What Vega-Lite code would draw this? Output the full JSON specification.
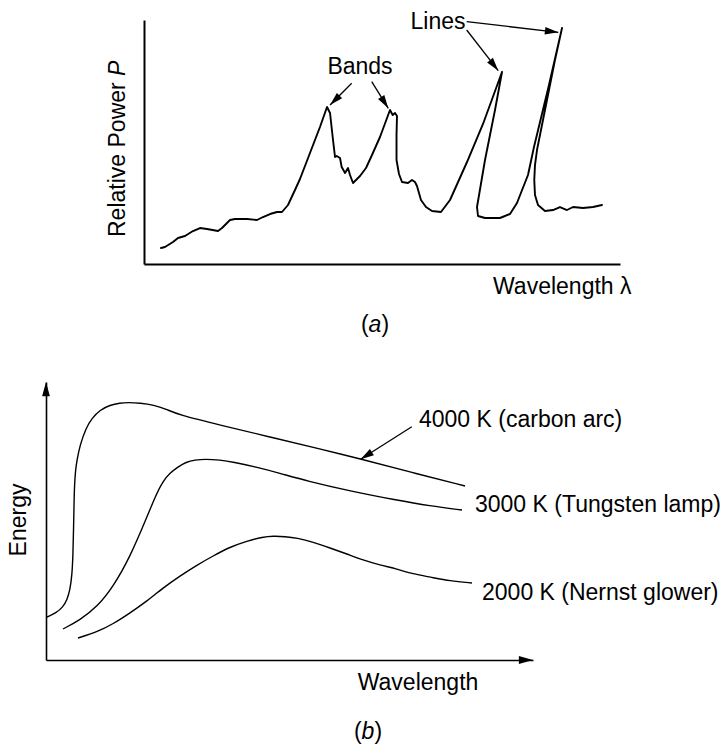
{
  "$schema": "https://vega.github.io/schema/vega-lite/v6.json",
  "background": "white",
  "padding": 0,
  "bounds": "flush",
  "spacing": 118,
  "config": {
    "view": {"stroke": null},
    "mark": {"color": "#000"},
    "text": {"font": "Liberation Sans", "fontSize": 23, "baseline": "middle"},
    "axis": {"labels": false, "ticks": false, "grid": false, "domainColor": "#000", "title": null}
  },
  "datasets": {
    "spectrum": [
      {"i":1,"wavelength":3.57,"power":6.56},{"i":2,"wavelength":4.41,"power":6.97},{"i":3,"wavelength":6.09,"power":9.02},
      {"i":4,"wavelength":7.14,"power":10.66},{"i":5,"wavelength":8.61,"power":11.48},{"i":6,"wavelength":10.29,"power":13.52},
      {"i":7,"wavelength":11.76,"power":14.75},{"i":8,"wavelength":13.24,"power":14.34},{"i":9,"wavelength":15.55,"power":13.52},
      {"i":10,"wavelength":16.39,"power":14.75},{"i":11,"wavelength":18.07,"power":18.03},{"i":12,"wavelength":19.12,"power":18.44},
      {"i":13,"wavelength":21.64,"power":18.44},{"i":14,"wavelength":23.74,"power":18.03},{"i":15,"wavelength":25.0,"power":19.26},
      {"i":16,"wavelength":26.47,"power":20.49},{"i":17,"wavelength":27.94,"power":21.31},{"i":18,"wavelength":28.99,"power":21.31},
      {"i":19,"wavelength":30.25,"power":24.18},{"i":20,"wavelength":31.72,"power":30.33},{"i":21,"wavelength":32.77,"power":34.84},
      {"i":22,"wavelength":34.87,"power":45.49},{"i":23,"wavelength":36.97,"power":56.15},{"i":24,"wavelength":38.45,"power":64.34},
      {"i":25,"wavelength":39.08,"power":61.89},{"i":26,"wavelength":39.71,"power":50.82},{"i":27,"wavelength":40.13,"power":43.85},
      {"i":28,"wavelength":40.48,"power":44.26},{"i":29,"wavelength":41.18,"power":43.44},{"i":30,"wavelength":41.53,"power":39.75},
      {"i":31,"wavelength":42.23,"power":37.30},{"i":32,"wavelength":42.86,"power":39.34},{"i":33,"wavelength":43.28,"power":36.48},
      {"i":34,"wavelength":43.91,"power":33.20},{"i":35,"wavelength":45.38,"power":36.07},{"i":36,"wavelength":46.64,"power":39.34},
      {"i":37,"wavelength":47.90,"power":44.67},{"i":38,"wavelength":49.58,"power":52.05},{"i":39,"wavelength":51.68,"power":63.11},
      {"i":40,"wavelength":52.25,"power":61.07},{"i":41,"wavelength":52.73,"power":61.89},{"i":42,"wavelength":53.15,"power":60.66},
      {"i":43,"wavelength":53.05,"power":52.87},{"i":44,"wavelength":53.05,"power":42.62},{"i":45,"wavelength":53.57,"power":36.89},
      {"i":46,"wavelength":54.20,"power":33.61},{"i":47,"wavelength":55.46,"power":33.20},{"i":48,"wavelength":56.30,"power":34.43},
      {"i":49,"wavelength":56.93,"power":33.61},{"i":50,"wavelength":57.35,"power":31.97},{"i":51,"wavelength":58.19,"power":26.23},
      {"i":52,"wavelength":59.24,"power":23.36},{"i":53,"wavelength":60.50,"power":21.72},{"i":54,"wavelength":62.39,"power":21.31},
      {"i":55,"wavelength":64.29,"power":26.23},{"i":56,"wavelength":67.86,"power":41.80},{"i":57,"wavelength":71.22,"power":57.38},
      {"i":58,"wavelength":75.21,"power":78.69},{"i":59,"wavelength":73.74,"power":63.11},{"i":60,"wavelength":71.64,"power":42.62},
      {"i":61,"wavelength":69.96,"power":23.36},{"i":62,"wavelength":70.17,"power":19.67},{"i":63,"wavelength":71.64,"power":18.85},
      {"i":64,"wavelength":74.79,"power":18.85},{"i":65,"wavelength":76.89,"power":20.49},{"i":66,"wavelength":78.36,"power":25.0},
      {"i":67,"wavelength":80.67,"power":36.48},{"i":68,"wavelength":81.93,"power":47.95},{"i":69,"wavelength":85.08,"power":73.36},
      {"i":70,"wavelength":87.82,"power":96.72},{"i":71,"wavelength":86.34,"power":83.61},{"i":72,"wavelength":84.66,"power":67.21},
      {"i":73,"wavelength":83.61,"power":56.97},{"i":74,"wavelength":82.56,"power":46.72},{"i":75,"wavelength":82.14,"power":40.57},
      {"i":76,"wavelength":81.99,"power":34.43},{"i":77,"wavelength":82.14,"power":28.28},{"i":78,"wavelength":82.77,"power":24.18},
      {"i":79,"wavelength":84.24,"power":21.72},{"i":80,"wavelength":85.92,"power":22.13},{"i":81,"wavelength":87.39,"power":23.36},
      {"i":82,"wavelength":88.87,"power":22.13},{"i":83,"wavelength":90.13,"power":23.36},{"i":84,"wavelength":92.23,"power":22.95},
      {"i":85,"wavelength":94.33,"power":23.36},{"i":86,"wavelength":96.22,"power":24.18}
    ],
    "arrowsA": [
      {"arrow":"bands-left","wavelength":39.08,"power":65.16,"wavelength2":43.63,"power2":74.06},
      {"arrow":"bands-right","wavelength":51.32,"power":63.81,"wavelength2":47.84,"power2":74.71},
      {"arrow":"lines-left","wavelength":74.43,"power":79.22,"wavelength2":67.79,"power2":95.90},
      {"arrow":"lines-right","wavelength":87.04,"power":94.96,"wavelength2":67.79,"power2":99.30}
    ],
    "blackbody": [
      {"temperature":"4000 K","wavelength":0.21,"energy":15.47},{"temperature":"4000 K","wavelength":2.05,"energy":16.91},
      {"temperature":"4000 K","wavelength":3.49,"energy":19.06},{"temperature":"4000 K","wavelength":4.31,"energy":21.58},
      {"temperature":"4000 K","wavelength":4.93,"energy":25.18},{"temperature":"4000 K","wavelength":5.34,"energy":30.58},
      {"temperature":"4000 K","wavelength":5.54,"energy":37.77},{"temperature":"4000 K","wavelength":5.65,"energy":46.76},
      {"temperature":"4000 K","wavelength":5.75,"energy":55.76},{"temperature":"4000 K","wavelength":5.85,"energy":62.95},
      {"temperature":"4000 K","wavelength":6.06,"energy":68.35},{"temperature":"4000 K","wavelength":6.37,"energy":71.94},
      {"temperature":"4000 K","wavelength":6.98,"energy":77.34},{"temperature":"4000 K","wavelength":8.21,"energy":83.45},
      {"temperature":"4000 K","wavelength":9.45,"energy":87.05},{"temperature":"4000 K","wavelength":11.09,"energy":89.93},
      {"temperature":"4000 K","wavelength":13.14,"energy":91.73},{"temperature":"4000 K","wavelength":15.20,"energy":92.45},
      {"temperature":"4000 K","wavelength":16.84,"energy":92.63},{"temperature":"4000 K","wavelength":19.30,"energy":92.45},
      {"temperature":"4000 K","wavelength":22.18,"energy":91.73},{"temperature":"4000 K","wavelength":24.64,"energy":90.29},
      {"temperature":"4000 K","wavelength":27.31,"energy":88.13},{"temperature":"4000 K","wavelength":35.73,"energy":84.53},
      {"temperature":"4000 K","wavelength":46.00,"energy":80.22},{"temperature":"4000 K","wavelength":56.26,"energy":75.90},
      {"temperature":"4000 K","wavelength":64.68,"energy":72.30},{"temperature":"4000 K","wavelength":74.74,"energy":67.63},
      {"temperature":"4000 K","wavelength":86.04,"energy":62.59},
      {"temperature":"3000 K","wavelength":3.49,"energy":11.15},{"temperature":"3000 K","wavelength":6.98,"energy":14.39},
      {"temperature":"3000 K","wavelength":10.47,"energy":19.06},{"temperature":"3000 K","wavelength":13.76,"energy":26.26},
      {"temperature":"3000 K","wavelength":17.25,"energy":37.05},{"temperature":"3000 K","wavelength":20.74,"energy":51.44},
      {"temperature":"3000 K","wavelength":22.38,"energy":58.63},{"temperature":"3000 K","wavelength":24.02,"energy":64.39},
      {"temperature":"3000 K","wavelength":25.46,"energy":67.27},{"temperature":"3000 K","wavelength":27.10,"energy":69.42},
      {"temperature":"3000 K","wavelength":28.75,"energy":71.22},{"temperature":"3000 K","wavelength":30.60,"energy":71.94},
      {"temperature":"3000 K","wavelength":32.65,"energy":72.30},{"temperature":"3000 K","wavelength":35.73,"energy":71.94},
      {"temperature":"3000 K","wavelength":38.40,"energy":71.22},{"temperature":"3000 K","wavelength":43.12,"energy":69.42},
      {"temperature":"3000 K","wavelength":47.84,"energy":67.27},{"temperature":"3000 K","wavelength":53.59,"energy":64.39},
      {"temperature":"3000 K","wavelength":62.42,"energy":60.79},{"temperature":"3000 K","wavelength":71.87,"energy":57.55},
      {"temperature":"3000 K","wavelength":78.85,"energy":55.40},{"temperature":"3000 K","wavelength":85.42,"energy":53.96},
      {"temperature":"2000 K","wavelength":6.57,"energy":7.91},{"temperature":"2000 K","wavelength":10.47,"energy":10.07},
      {"temperature":"2000 K","wavelength":13.76,"energy":12.95},{"temperature":"2000 K","wavelength":17.25,"energy":16.91},
      {"temperature":"2000 K","wavelength":20.74,"energy":21.22},{"temperature":"2000 K","wavelength":24.02,"energy":25.90},
      {"temperature":"2000 K","wavelength":27.52,"energy":30.22},{"temperature":"2000 K","wavelength":31.01,"energy":34.17},
      {"temperature":"2000 K","wavelength":34.29,"energy":37.41},{"temperature":"2000 K","wavelength":37.78,"energy":40.65},
      {"temperature":"2000 K","wavelength":41.27,"energy":42.81},{"temperature":"2000 K","wavelength":44.56,"energy":44.24},
      {"temperature":"2000 K","wavelength":46.61,"energy":44.60},{"temperature":"2000 K","wavelength":49.08,"energy":44.42},
      {"temperature":"2000 K","wavelength":51.54,"energy":43.88},{"temperature":"2000 K","wavelength":54.83,"energy":42.45},
      {"temperature":"2000 K","wavelength":58.32,"energy":40.29},{"temperature":"2000 K","wavelength":61.81,"energy":38.13},
      {"temperature":"2000 K","wavelength":65.09,"energy":35.97},{"temperature":"2000 K","wavelength":68.58,"energy":34.17},
      {"temperature":"2000 K","wavelength":72.07,"energy":32.73},{"temperature":"2000 K","wavelength":75.36,"energy":30.94},
      {"temperature":"2000 K","wavelength":78.85,"energy":29.86},{"temperature":"2000 K","wavelength":82.96,"energy":28.42},
      {"temperature":"2000 K","wavelength":87.47,"energy":27.70}
    ]
  },
  "vconcat": [
    {
      "width": 620,
      "height": 264,
      "encoding": {
        "x": {"field": "wavelength", "type": "quantitative", "scale": {"domain": [0, 100], "range": [144, 620]}, "axis": {"title": null, "domainWidth": 2}},
        "y": {"field": "power", "type": "quantitative", "scale": {"domain": [0, 100], "range": [264, 20]}, "axis": {"title": null, "domainWidth": 2, "offset": -144}}
      },
      "layer": [
        {"data": {"name": "spectrum"}, "mark": {"type": "line", "strokeWidth": 1.9, "strokeJoin": "round", "strokeCap": "round"}, "encoding": {"order": {"field": "i", "type": "quantitative"}}},
        {"data": {"name": "arrowsA"}, "mark": {"type": "rule", "strokeWidth": 1.3}, "encoding": {"x2": {"field": "wavelength2"}, "y2": {"field": "power2"}}},
        {"data": {"name": "arrowsA"}, "transform": [{"filter": "datum.arrow == 'bands-left'"}], "mark": {"type": "point", "shape": "M0,0L0.55,2L-0.55,2Z", "filled": true, "opacity": 1, "size": 180, "angle": 225, "strokeWidth": 0}},
        {"data": {"name": "arrowsA"}, "transform": [{"filter": "datum.arrow == 'bands-right'"}], "mark": {"type": "point", "shape": "M0,0L0.55,2L-0.55,2Z", "filled": true, "opacity": 1, "size": 180, "angle": 148, "strokeWidth": 0}},
        {"data": {"name": "arrowsA"}, "transform": [{"filter": "datum.arrow == 'lines-left'"}], "mark": {"type": "point", "shape": "M0,0L0.55,2L-0.55,2Z", "filled": true, "opacity": 1, "size": 180, "angle": 142, "strokeWidth": 0}},
        {"data": {"name": "arrowsA"}, "transform": [{"filter": "datum.arrow == 'lines-right'"}], "mark": {"type": "point", "shape": "M0,0L0.55,2L-0.55,2Z", "filled": true, "opacity": 1, "size": 180, "angle": 96.6, "strokeWidth": 0}},
        {"data": {"values": [{"wavelength": 45.38, "power": 80.74, "label": "Bands"}, {"wavelength": 61.76, "power": 99.18, "label": "Lines"}]}, "mark": {"type": "text", "align": "center"}, "encoding": {"text": {"field": "label"}}},
        {"data": {"values": [{"wavelength": 73.32, "power": -9.43, "label": "Wavelength λ"}, {"wavelength": 49.87, "power": -25.0, "label": ")"}]}, "mark": {"type": "text", "align": "left"}, "encoding": {"text": {"field": "label"}}},
        {"data": {"values": [{"wavelength": 47.19, "power": -25.0, "label": "("}]}, "mark": {"type": "text", "align": "right"}, "encoding": {"text": {"field": "label"}}},
        {"data": {"values": [{"wavelength": 48.53, "power": -25.0, "label": "a"}]}, "mark": {"type": "text", "align": "center", "fontStyle": "italic"}, "encoding": {"text": {"field": "label"}}},
        {"data": {"values": [{"wavelength": -5.46, "power": 11.07, "label": "Relative Power"}]}, "mark": {"type": "text", "align": "left", "angle": 270}, "encoding": {"text": {"field": "label"}}},
        {"data": {"values": [{"wavelength": -5.46, "power": 77.05, "label": "P"}]}, "mark": {"type": "text", "align": "left", "angle": 270, "fontStyle": "italic"}, "encoding": {"text": {"field": "label"}}}
      ]
    },
    {
      "width": 533,
      "height": 278,
      "encoding": {
        "x": {"field": "wavelength", "type": "quantitative", "scale": {"domain": [0, 100], "range": [46, 533]}, "axis": {"title": null, "domainWidth": 1.6}},
        "y": {"field": "energy", "type": "quantitative", "scale": {"domain": [0, 100]}, "axis": {"title": null, "domainWidth": 1.6, "offset": -46}}
      },
      "layer": [
        {"data": {"name": "blackbody"}, "mark": {"type": "line", "strokeWidth": 1.4, "interpolate": "basis"}, "encoding": {"detail": {"field": "temperature", "type": "nominal"}}},
        {"data": {"values": [{"wavelength": 0, "energy": 100}]}, "mark": {"type": "point", "shape": "M0,0L0.55,2L-0.55,2Z", "filled": true, "opacity": 1, "size": 200, "angle": 0, "strokeWidth": 0}},
        {"data": {"values": [{"wavelength": 100, "energy": 0}]}, "mark": {"type": "point", "shape": "M0,0L0.55,2L-0.55,2Z", "filled": true, "opacity": 1, "size": 200, "angle": 90, "strokeWidth": 0}},
        {"data": {"values": [{"wavelength": 64.60, "energy": 72.19, "wavelength2": 75.11, "energy2": 83.92}]}, "mark": {"type": "rule", "strokeWidth": 1.3}, "encoding": {"x2": {"field": "wavelength2"}, "y2": {"field": "energy2"}}},
        {"data": {"values": [{"wavelength": 64.60, "energy": 72.19}]}, "mark": {"type": "point", "shape": "M0,0L0.55,2L-0.55,2Z", "filled": true, "opacity": 1, "size": 180, "angle": 237.5, "strokeWidth": 0}},
        {"data": {"values": [
          {"wavelength": 76.59, "energy": 86.33, "label": "4000 K (carbon arc)"},
          {"wavelength": 88.09, "energy": 55.76, "label": "3000 K (Tungsten lamp)"},
          {"wavelength": 89.53, "energy": 24.10, "label": "2000 K (Nernst glower)"},
          {"wavelength": 67.43, "energy": -25.90, "label": ")"}
        ]}, "mark": {"type": "text", "align": "left"}, "encoding": {"text": {"field": "label"}}},
        {"data": {"values": [{"wavelength": 76.39, "energy": -8.27, "label": "Wavelength"}]}, "mark": {"type": "text", "align": "center"}, "encoding": {"text": {"field": "label"}}},
        {"data": {"values": [{"wavelength": 64.81, "energy": -25.90, "label": "("}]}, "mark": {"type": "text", "align": "right"}, "encoding": {"text": {"field": "label"}}},
        {"data": {"values": [{"wavelength": 66.12, "energy": -25.90, "label": "b"}]}, "mark": {"type": "text", "align": "center", "fontStyle": "italic"}, "encoding": {"text": {"field": "label"}}},
        {"data": {"values": [{"wavelength": -5.54, "energy": 50.36, "label": "Energy"}]}, "mark": {"type": "text", "align": "center", "angle": 270}, "encoding": {"text": {"field": "label"}}}
      ]
    }
  ]
}
